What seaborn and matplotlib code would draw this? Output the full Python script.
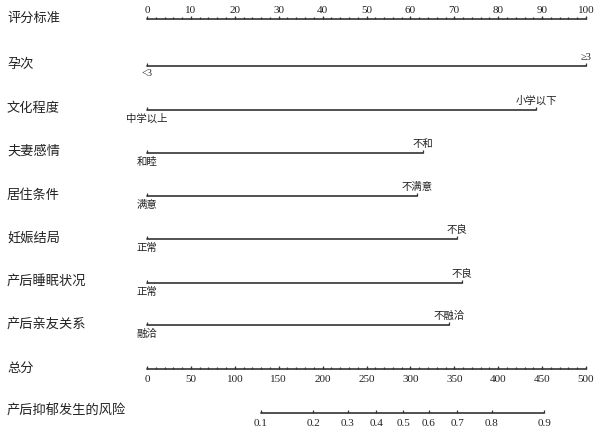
import matplotlib
matplotlib.use("Agg")
import matplotlib.pyplot as plt
import matplotlib.transforms as mtransforms
import seaborn as sns
import numpy as np
import pandas as pd

# nomogram rows (top to bottom)
row_names = ["评分标准", "孕次", "文化程度", "夫妻感情", "居住条件", "妊娠结局",
             "产后睡眠状况", "产后亲友关系", "总分", "产后抑郁发生的风险"]

# predictors: label at 0 points, label at max points, max points
var_low = ["<3", "中学以上", "和睦", "满意", "正常", "正常", "融洽"]
var_high = ["≥3", "小学以下", "不和", "不满意", "不良", "不良", "不融洽"]
var_points = [100, 88.6, 62.9, 61.5, 70.6, 71.8, 68.8]

# points scale
point_major = list(range(0, 101, 10))
point_minor = list(range(0, 101, 2))

# total points scale
total_major = list(range(0, 501, 50))
total_minor = list(range(0, 501, 10))

# risk scale: probability -> total points
risk_labels = ["0.1", "0.2", "0.3", "0.4", "0.5", "0.6", "0.7", "0.8", "0.9"]
risk_total = [129.8, 189.5, 228.5, 261.2, 291.6, 321.2, 353.5, 392.8, 452.2]

sns.set_theme(style="white")
plt.rcParams['font.family'] = ['Liberation Serif', 'Noto Sans CJK SC', 'DejaVu Sans']

line_col = "#333333"
text_col = "#222222"
row_y = [19, 65.5, 109.5, 152.5, 196, 239, 282.5, 325, 369, 412.5]
tick_len = 3

fig = plt.figure(figsize=(5.95, 4.3), dpi=100)
ax = fig.add_axes([0, 0, 1, 1])
ax.set_xlim(-33.49, 102.05)
ax.set_ylim(430, 0)
ax.axis("off")

left = mtransforms.blended_transform_factory(fig.transFigure, ax.transData)
for name, y in zip(row_names, row_y):
    ax.text(7 / 595, y - 1, name, transform=left, fontsize=9.5, color=text_col,
            ha="left", va="center", family=['Noto Sans CJK SC'])


def hline(x0, x1, y):
    df = pd.DataFrame({"x": [x0, x1], "y": [y, y]})
    sns.lineplot(data=df, x="x", y="y", ax=ax, color=line_col, lw=1.2,
                 estimator=None, sort=False)


# points axis
y = row_y[0]
hline(0, 100, y)
ax.vlines(point_minor, y, y - 1.8, color=line_col, lw=0.9)
ax.vlines(point_major, y, y - tick_len, color=line_col, lw=0.9)
for v in point_major:
    ax.text(v, y - 4, str(v), fontsize=8, color=text_col, ha="center", va="bottom")

# predictors
for low, high, pts, y in zip(var_low, var_high, var_points, row_y[1:8]):
    hline(0, pts, y)
    ax.vlines([0, pts], y, y - tick_len, color=line_col, lw=0.9)
    ax.text(0, y + 4, low, fontsize=7.5, color=text_col, ha="center", va="top")
    ax.text(pts, y - 4, high, fontsize=7.5, color=text_col, ha="center", va="bottom")

# total points axis
y = row_y[8]
hline(0, 100, y)
ax.vlines([t / 5 for t in total_minor], y, y - 1.8, color=line_col, lw=0.9)
ax.vlines([t / 5 for t in total_major], y, y - tick_len, color=line_col, lw=0.9)
for t in total_major:
    ax.text(t / 5, y + 6, str(t), fontsize=8, color=text_col, ha="center", va="top")

# risk axis
y = row_y[9]
rx = [t / 5 for t in risk_total]
hline(rx[0], rx[-1], y)
ax.vlines(rx, y, y - tick_len, color=line_col, lw=0.9)
for lab, x in zip(risk_labels, rx):
    ax.text(x, y + 6, lab, fontsize=8, color=text_col, ha="center", va="top")

fig.savefig("out.png", dpi=100)
